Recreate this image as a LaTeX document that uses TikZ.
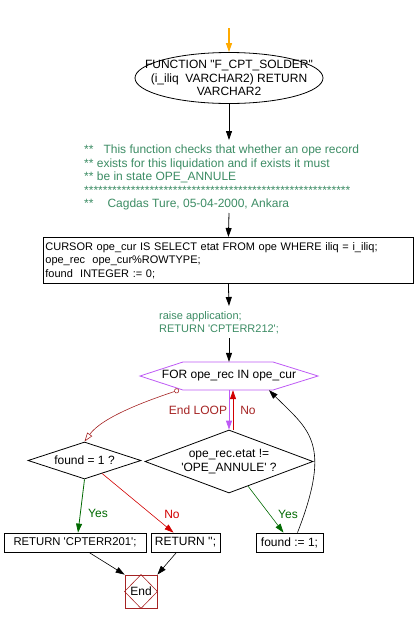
\documentclass[tikz,border=0pt]{standalone}
\usepackage{fontspec}
\setmainfont{Liberation Sans}[Ligatures=TeXOff]
\usetikzlibrary{shapes.geometric,arrows.meta,calc}

\definecolor{notegreen}{RGB}{60,140,100}
\definecolor{loopred}{RGB}{165,35,35}
\definecolor{nored}{RGB}{210,0,0}
\definecolor{yesgreen}{RGB}{0,105,0}
\definecolor{looppurple}{RGB}{190,90,245}
\definecolor{startorange}{RGB}{255,170,0}

\tikzset{
  stmt/.style={draw, line width=0.8pt, inner xsep=2pt, inner ysep=2pt},
  note/.style={text=notegreen, align=left, inner sep=0pt},
  cond/.style={draw, diamond, line width=0.8pt, inner sep=1pt, align=center},
  flow/.style={line width=0.8pt, -{Triangle[length=9pt,width=6pt]}},
  yeslbl/.style={text=yesgreen, inner sep=1pt},
  nolbl/.style={text=nored, inner sep=1pt},
  smalltxt/.style={font=\fontsize{11}{13.5}\selectfont}
}

\begin{document}
\begin{tikzpicture}[x=1pt, y=-1pt, font=\fontsize{12}{13.8}\selectfont]
	\useasboundingbox (0,0) rectangle (416,622);
	
	% function header
	\coordinate (start) at (229,28);
	\node[draw, ellipse, line width=0.8pt, minimum width=188pt, minimum height=51pt] (func) at (229,78) {};
	\node[align=center, inner sep=0pt] (functext) at (func.center) {FUNCTION "F\_CPT\_SOLDER"\\(i\_iliq\ \ VARCHAR2) RETURN\\VARCHAR2};
	\draw[flow, startorange, line width=1.2pt] (start) -- (func.north);
	
	% comment block
	\coordinate (noteTop) at (229,140);
	\coordinate (noteBot) at (229,213);
	\node[note, anchor=north west, font=\fontsize{12}{13.5}\selectfont] (comment) at (84,145) {**\ \ \ This function checks that whether an ope record\\
		** exists for this liquidation and if exists it must\\
		** be in state OPE\_ANNULE\\
		*********************************************************\\
		**\hspace{14pt}Cagdas Ture, 05-04-2000, Ankara};
	\draw[flow] (func.south) -- (noteTop);
	
	% declarations
	\node[stmt, smalltxt, anchor=north west, align=left, text width=366pt, minimum height=46pt] (cursor) at (43,237) {CURSOR ope\_cur IS SELECT etat FROM ope WHERE iliq = i\_iliq;\\
		ope\_rec\ \ ope\_cur\%ROWTYPE;\\
		found\ \ INTEGER := 0;};
	\draw[flow] (noteBot) -- (cursor.north);
	
	% raise
	\coordinate (raiseTop) at (229,306);
	\coordinate (raiseBot) at (229,338);
	\node[note, smalltxt, anchor=north west] (raise) at (159,311) {raise application;\\RETURN 'CPTERR212';};
	\draw[flow] (cursor.south) -- (raiseTop);
	
	% loop
	\node[inner sep=0pt, minimum height=28pt] (loop) at (229,376) {FOR ope\_rec IN ope\_cur};
	\coordinate (loop-w) at ($(loop.center)+(-89,0)$);
	\coordinate (loop-nw) at ($(loop.center)+(-46,-14)$);
	\coordinate (loop-ne) at ($(loop.center)+(44,-14)$);
	\coordinate (loop-e) at ($(loop.center)+(89,0)$);
	\coordinate (loop-se) at ($(loop.center)+(44,14)$);
	\coordinate (loop-sw) at ($(loop.center)+(-46,14)$);
	\draw[looppurple, line width=0.8pt] (loop-w) -- (loop-nw) -- (loop-ne) -- (loop-e) -- (loop-se) -- (loop-sw) -- cycle;
	\draw[flow] (raiseBot) -- (loop.north);
	
	% decisions
	\node[cond, aspect=2.67, minimum width=168pt, minimum height=63pt] (check) at (229,461.5) {ope\_rec.etat !=\\'OPE\_ANNULE' ?};
	\node[cond, aspect=3.05, minimum width=113pt, minimum height=37pt] (found) at (84.5,460.5) {found = 1 ?};
	
	% statements
	\node[stmt, font=\fontsize{11.3}{13.5}\selectfont, minimum width=142pt, minimum height=19pt] (ret201) at (75,542.5) {RETURN 'CPTERR201';};
	\node[stmt, minimum width=69pt, minimum height=19pt] (retnil) at (185.5,542.5) {RETURN '';};
	\node[stmt, minimum width=67pt, minimum height=19pt] (setfound) at (289.5,542.5) {found := 1;};
	\node[draw=loopred, line width=0.8pt, minimum width=32pt, minimum height=33pt, inner sep=0pt] (endbox) at (141,591.5) {End};
	\draw[loopred, line width=0.6pt] (endbox.north) -- (endbox.east) -- (endbox.south) -- (endbox.west) -- cycle;
	
	% loop connectors
	\coordinate (exitPt) at (179,390);
	\coordinate (loopBack) at ($(loop.south)+(40,0)$);
	\draw[loopred, line width=0.6pt, {Circle[open,length=5pt]}-{Triangle[open,length=9pt,width=6pt]}]
		(exitPt) .. controls +(-30,10) and +(18,-25) .. (found.north);
	\node[text=loopred] (endloop) at (198,410) {End LOOP};
	\draw[flow, looppurple] (loop.south) -- (check.north);
	\draw[flow, nored] ([xshift=4pt]check.north) -- ([xshift=4pt]loop.south);
	\node[nolbl, text=loopred] (nolp) at (248,410) {No};
	\draw[flow, line width=0.6pt] ([xshift=8pt]setfound.north) .. controls +(35,-90) and +(40,40) .. (loopBack);
	
	% branch connectors
	\draw[flow, yesgreen] (found.south) -- ([xshift=3pt]ret201.north);
	\node[yeslbl] (yesf) at (98,513) {Yes};
	\draw[flow, nored, line width=0.6pt] ($(found.south)!0.31!(found.east)$) -- ([xshift=-12pt]retnil.north);
	\node[nolbl] (nof) at (172,514) {No};
	\draw[flow, yesgreen, line width=0.6pt] ($(check.south)!0.226!(check.east)$) -- ([xshift=-6pt]setfound.north);
	\node[yeslbl] (yesc) at (288,514) {Yes};
	
	% to end
	\draw[flow, line width=0.6pt] ([xshift=14pt]ret201.south) -- (endbox.north west);
	\draw[flow, line width=0.6pt] ([xshift=-9pt]retnil.south) -- (endbox.north east);
\end{tikzpicture}
\end{document}
